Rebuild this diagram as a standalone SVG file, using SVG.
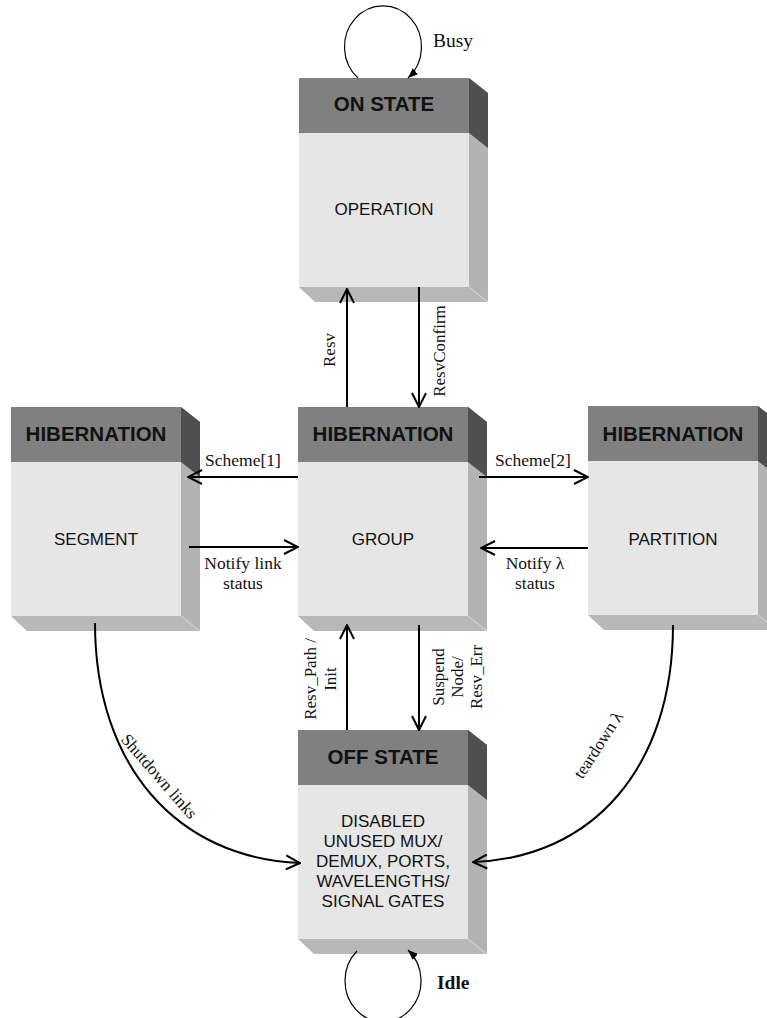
<svg xmlns="http://www.w3.org/2000/svg" xmlns:xlink="http://www.w3.org/1999/xlink" width="767" height="1018" viewBox="0 0 767 1018">
  <style>
    .hdr { fill: #808080; }
    .body { fill: #e6e6e6; }
    .side { fill: #b3b3b3; }
    .side-dark { fill: #4f4f4f; }
    .bottom { fill: #b8b8b8; }
    .edge-line { stroke: #d6d6d6; stroke-width: 1; fill: none; }
    .title { font-family: "Liberation Sans", Arial, sans-serif; font-weight: bold; font-size: 20.5px; fill: #111; text-anchor: middle; }
    .state { font-family: "Liberation Sans", Arial, sans-serif; font-size: 17px; fill: #111; text-anchor: middle; }
    .lbl { font-family: "Liberation Serif", "Times New Roman", serif; font-size: 17px; fill: #111; text-anchor: middle; }
    .hlbl { font-size: 17.5px; }
    .loop-lbl { font-family: "Liberation Serif", "Times New Roman", serif; font-size: 19.5px; fill: #111; }
    .conn { stroke: #000; stroke-width: 2; fill: none; marker-end: url(#open-arrow); }
    .loop { stroke: #000; stroke-width: 1.2; fill: none; marker-end: url(#small-arrow); }
  </style>
  <defs>
    <marker id="open-arrow" markerUnits="userSpaceOnUse" viewBox="0 0 16 16" refX="15" refY="8" markerWidth="16" markerHeight="16" orient="auto">
      <path d="M1,1 L15,8 L1,15" fill="none" stroke="#000" stroke-width="2"/>
    </marker>
    <marker id="small-arrow" markerUnits="userSpaceOnUse" viewBox="0 0 10 8" refX="10" refY="4" markerWidth="10" markerHeight="8" orient="auto">
      <path d="M0,0 L10,4 L0,8 z" fill="#000"/>
    </marker>
    <!-- extruded state box: front face 170x209 with a 55px title band -->
    <g id="box">
      <polygon class="side" points="170,0 189,15 189,224 170,209"/>
      <polygon class="side-dark" points="170,0 189,15 189,70 170,55"/>
      <polygon class="bottom" points="0,209 170,209 189,224 16,224"/>
      <line class="edge-line" x1="170" y1="209" x2="189" y2="224"/>
      <rect class="hdr" x="0" y="0" width="170" height="55"/>
      <rect class="body" x="0" y="55" width="170" height="154"/>
    </g>
  </defs>

  <rect width="767" height="1018" fill="#fff"/>

  <g id="on-state" transform="translate(299,78)">
    <use xlink:href="#box"/>
    <text class="title" x="85" y="33">ON STATE</text>
    <text class="state" x="85" y="137">OPERATION</text>
  </g>

  <g id="hibernation-group" transform="translate(298,407)">
    <use xlink:href="#box"/>
    <text class="title" x="85" y="34">HIBERNATION</text>
    <text class="state" x="85" y="138">GROUP</text>
  </g>

  <g id="hibernation-segment" transform="translate(11,407)">
    <use xlink:href="#box"/>
    <text class="title" x="85" y="34">HIBERNATION</text>
    <text class="state" x="85" y="138">SEGMENT</text>
  </g>

  <g id="hibernation-partition" transform="translate(588,406)">
    <use xlink:href="#box"/>
    <text class="title" x="85" y="35">HIBERNATION</text>
    <text class="state" x="85" y="139">PARTITION</text>
  </g>

  <g id="off-state" transform="translate(298,730)">
    <use xlink:href="#box"/>
    <text class="title" x="85" y="34">OFF STATE</text>
    <text class="state" x="85" y="97">DISABLED</text>
    <text class="state" x="85" y="117">UNUSED MUX/</text>
    <text class="state" x="85" y="137">DEMUX, PORTS,</text>
    <text class="state" x="85" y="157">WAVELENGTHS/</text>
    <text class="state" x="85" y="177">SIGNAL GATES</text>
  </g>

  <g id="connectors">
    <!-- self loops -->
    <path class="loop" d="M358,78 A38.5 41 0 1 1 408,78"/>
    <path class="loop" d="M357,951 A38 41 0 1 0 408,950"/>
    <!-- vertical transitions -->
    <line class="conn" x1="347" y1="407" x2="347" y2="289"/>
    <line class="conn" x1="419" y1="287" x2="419" y2="407"/>
    <line class="conn" x1="347" y1="730" x2="347" y2="625"/>
    <line class="conn" x1="419" y1="625" x2="419" y2="730"/>
    <!-- horizontal transitions -->
    <line class="conn" x1="298" y1="477" x2="188" y2="477"/>
    <line class="conn" x1="189" y1="547" x2="298" y2="547"/>
    <line class="conn" x1="479" y1="477" x2="588" y2="477"/>
    <line class="conn" x1="588" y1="548" x2="481" y2="548"/>
    <!-- curved shutdown transitions -->
    <path class="conn" d="M95,623 C95,766 177,858 300,863"/>
    <path class="conn" d="M673,625 C673,767 593,858 473,862"/>
  </g>

  <g id="labels">
    <text class="loop-lbl" x="433" y="47">Busy</text>
    <text class="loop-lbl" x="437" y="989" font-weight="bold">Idle</text>
    <text class="lbl" transform="translate(335,350) rotate(-90)">Resv</text>
    <text class="lbl" transform="translate(445,351) rotate(-90)">ResvConfirm</text>
    <text class="lbl hlbl" x="243" y="466">Scheme[1]</text>
    <text class="lbl hlbl" x="533" y="466">Scheme[2]</text>
    <text class="lbl hlbl"><tspan x="243" y="569">Notify link</tspan><tspan x="243" y="589">status</tspan></text>
    <text class="lbl hlbl"><tspan x="535" y="569">Notify λ</tspan><tspan x="535" y="589">status</tspan></text>
    <text class="lbl" transform="translate(316,679) rotate(-90)"><tspan x="0" y="0">Resv_Path /</tspan><tspan x="0" y="20">Init</tspan></text>
    <text class="lbl" transform="translate(444,677) rotate(-90)"><tspan x="0" y="0">Suspend</tspan><tspan x="0" y="19">Node/</tspan><tspan x="0" y="38">Resv_Err</tspan></text>
    <text class="lbl" transform="translate(155,780) rotate(49)">Shutdown links</text>
    <text class="lbl" transform="translate(603,748) rotate(-57)">teardown λ</text>
  </g>
</svg>
